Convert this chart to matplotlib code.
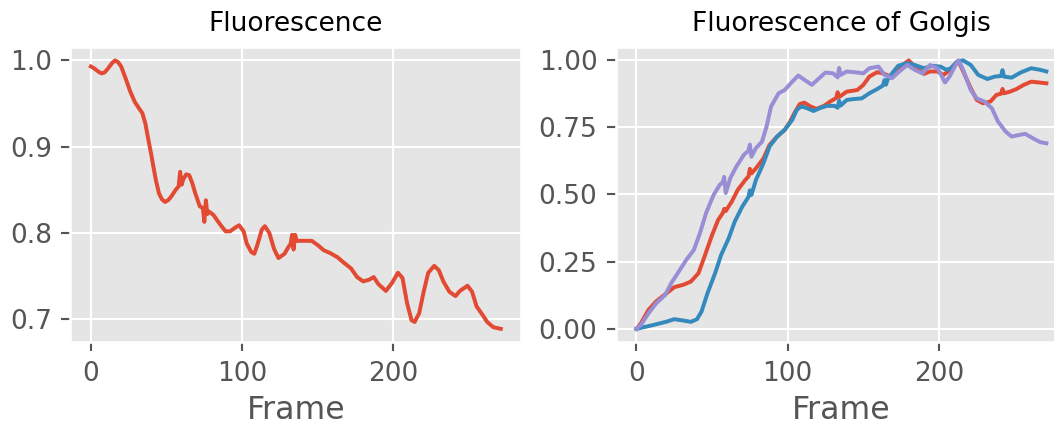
import matplotlib

matplotlib.use("Agg")
import matplotlib.pyplot as plt

# Whole-cell fluorescence, normalised to its maximum
cell_frames = [
    0, 2, 5, 7, 9, 11, 14, 16, 18, 20, 23, 26, 29, 32, 34, 36, 38, 40,
    41, 43, 45, 47, 49, 51, 53, 56, 58, 59, 60, 61, 63, 65, 67, 69, 72,
    74, 75, 76, 77, 78, 81, 85, 89, 92, 96, 98, 101, 103, 106, 108, 110,
    113, 115, 118, 121, 124, 128, 131, 132, 133, 134, 135, 136, 141, 146,
    150, 154, 158, 163, 167, 172, 176, 180, 184, 187, 190, 195, 199, 203,
    206, 209, 212, 214, 217, 220, 223, 227, 230, 233, 237, 241, 244, 249,
    252, 255, 259, 262, 266, 271,
]
cell_values = [
    0.993, 0.991, 0.987, 0.985, 0.986, 0.990, 0.997, 1.000, 0.998, 0.993,
    0.979, 0.964, 0.952, 0.944, 0.939, 0.927, 0.908, 0.890, 0.880, 0.861,
    0.846, 0.839, 0.836, 0.838, 0.842, 0.850, 0.854, 0.871, 0.856, 0.862,
    0.868, 0.867, 0.858, 0.846, 0.831, 0.829, 0.813, 0.838, 0.822, 0.825,
    0.821, 0.811, 0.802, 0.802, 0.807, 0.809, 0.802, 0.788, 0.778, 0.776,
    0.786, 0.804, 0.808, 0.800, 0.782, 0.771, 0.776, 0.785, 0.787, 0.798,
    0.781, 0.798, 0.791, 0.791, 0.791, 0.786, 0.780, 0.777, 0.772, 0.766,
    0.759, 0.749, 0.744, 0.746, 0.749, 0.741, 0.733, 0.742, 0.754, 0.748,
    0.719, 0.699, 0.697, 0.707, 0.732, 0.754, 0.762, 0.757, 0.744, 0.732,
    0.727, 0.733, 0.739, 0.732, 0.715, 0.705, 0.697, 0.691, 0.689,
]

# Golgi fluorescence, three regions, each normalised to its maximum
red_frames = [
    0, 3, 8, 13, 20, 25, 31, 36, 41, 45, 50, 54, 57, 58, 59, 63, 67, 72,
    74, 75, 76, 79, 84, 88, 93, 98, 101, 105, 108, 111, 115, 119, 124,
    128, 132, 133, 134, 139, 146, 150, 154, 159, 163, 168, 172, 176, 180,
    184, 190, 194, 199, 203, 206, 210, 213, 216, 221, 225, 229, 234, 238,
    241, 242, 243, 247, 251, 256, 261, 266, 271,
]
red_values = [
    0.000, 0.021, 0.071, 0.102, 0.133, 0.155, 0.164, 0.176, 0.207, 0.269,
    0.349, 0.405, 0.430, 0.446, 0.438, 0.473, 0.517, 0.554, 0.566, 0.595,
    0.578, 0.597, 0.634, 0.684, 0.715, 0.740, 0.765, 0.808, 0.836, 0.841,
    0.827, 0.818, 0.829, 0.845, 0.858, 0.880, 0.862, 0.882, 0.888, 0.907,
    0.938, 0.954, 0.950, 0.938, 0.957, 0.981, 0.998, 0.975, 0.948, 0.957,
    0.957, 0.944, 0.957, 0.981, 0.994, 0.957, 0.895, 0.851, 0.839, 0.845,
    0.870, 0.874, 0.892, 0.876, 0.882, 0.891, 0.907, 0.919, 0.916, 0.913,
]

blue_frames = [
    0, 7, 13, 20, 25, 31, 36, 40, 43, 47, 52, 56, 61, 65, 70, 74, 75, 76,
    79, 84, 88, 93, 98, 103, 106, 109, 113, 117, 121, 126, 131, 133, 134,
    135, 139, 143, 149, 154, 159, 163, 164, 165, 166, 169, 173, 179, 184,
    190, 196, 201, 205, 208, 212, 216, 221, 226, 232, 237, 241, 242, 243,
    248, 254, 261, 267, 271,
]
blue_values = [
    0.000, 0.009, 0.017, 0.027, 0.036, 0.031, 0.026, 0.036, 0.064, 0.133,
    0.207, 0.275, 0.337, 0.399, 0.455, 0.490, 0.515, 0.498, 0.554, 0.616,
    0.678, 0.715, 0.740, 0.777, 0.814, 0.827, 0.820, 0.810, 0.820, 0.829,
    0.829, 0.822, 0.848, 0.830, 0.851, 0.854, 0.857, 0.876, 0.891, 0.905,
    0.925, 0.908, 0.926, 0.950, 0.978, 0.988, 0.981, 0.969, 0.978, 0.975,
    0.963, 0.969, 0.994, 0.998, 0.981, 0.944, 0.929, 0.938, 0.940, 0.962,
    0.938, 0.934, 0.953, 0.969, 0.963, 0.957,
]

purple_frames = [
    0, 3, 8, 13, 19, 23, 28, 33, 38, 42, 46, 51, 55, 57, 58, 59, 62, 66,
    71, 74, 75, 76, 79, 83, 86, 89, 94, 98, 103, 107, 111, 116, 120, 125,
    130, 133, 134, 135, 139, 146, 150, 154, 160, 164, 169, 173, 179, 184,
    189, 194, 199, 204, 207, 211, 213, 216, 221, 225, 230, 235, 239, 244,
    248, 253, 257, 262, 267, 271,
]
purple_values = [
    0.000, 0.015, 0.058, 0.095, 0.126, 0.170, 0.213, 0.257, 0.294, 0.356,
    0.430, 0.498, 0.535, 0.545, 0.565, 0.505, 0.560, 0.603, 0.647, 0.662,
    0.685, 0.640, 0.672, 0.696, 0.752, 0.827, 0.876, 0.888, 0.919, 0.942,
    0.926, 0.907, 0.928, 0.953, 0.950, 0.935, 0.970, 0.944, 0.957, 0.953,
    0.950, 0.969, 0.975, 0.944, 0.932, 0.953, 0.981, 0.963, 0.950, 0.981,
    0.969, 0.916, 0.938, 0.981, 0.998, 0.963, 0.888, 0.857, 0.845, 0.820,
    0.771, 0.734, 0.715, 0.721, 0.725, 0.709, 0.694, 0.690,
]

plt.style.use("ggplot")

DPI = 190
fig = plt.figure(figsize=(1054 / DPI, 425 / DPI), dpi=DPI)

ax_cell = fig.add_axes([0.0668, 0.1946, 0.4278, 0.6948])
ax_golgi = fig.add_axes([0.5844, 0.1946, 0.4278, 0.6948])

ax_cell.plot(cell_frames, cell_values)
ax_cell.set_title("Fluorescence", fontsize=10)
ax_cell.set_xlabel("Frame", labelpad=3)
ax_cell.set_yticks([0.7, 0.8, 0.9, 1.0])

ax_golgi.plot(red_frames, red_values)
ax_golgi.plot(blue_frames, blue_values)
ax_golgi.plot(purple_frames, purple_values)
ax_golgi.set_title("Fluorescence of Golgis", fontsize=10)
ax_golgi.set_xlabel("Frame", labelpad=3)
ax_golgi.set_yticks([0.0, 0.25, 0.5, 0.75, 1.0])

for ax in (ax_cell, ax_golgi):
    ax.set_xticks([0, 100, 200])

fig.savefig("out.png", dpi=DPI)
